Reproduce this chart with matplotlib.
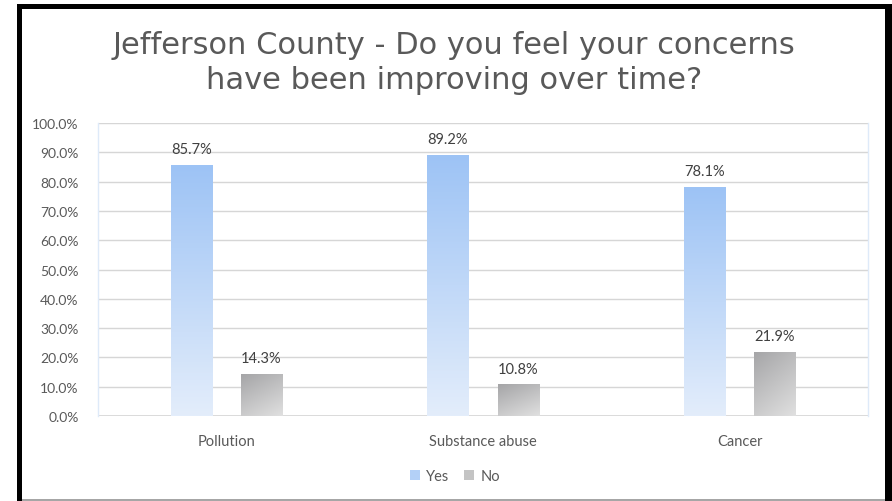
import numpy as np
import matplotlib
matplotlib.use("Agg")
import matplotlib.pyplot as plt
from matplotlib.colors import LinearSegmentedColormap
from matplotlib.patches import Rectangle

# Survey results, percent of respondents
categories = ["Pollution", "Substance abuse", "Cancer"]
yes_pct = [85.7, 89.2, 78.1]
no_pct = [14.3, 10.8, 21.9]
yticks = [0, 10, 20, 30, 40, 50, 60, 70, 80, 90, 100]

title = "Jefferson County - Do you feel your concerns\nhave been improving over time?"
text_grey = "#595959"

W, H = 892, 502
fig = plt.figure(figsize=(W / 100, H / 100), dpi=100)
fig.patch.set_facecolor("white")

# plot area in pixel coordinates
left, right, top, bottom = 98, 868, 124, 417
ax = fig.add_axes([left / W, 1 - bottom / H, (right - left) / W, (bottom - top) / H])

x = np.arange(len(categories))
bw = 0.16
off = 0.137

blue_cmap = LinearSegmentedColormap.from_list("yesgrad", ["#e3edfb", "#9dc3f5"])
grey_cmap = LinearSegmentedColormap.from_list("nograd", ["#e0e0e0", "#a5a5a7"])


def gradient_bars(xs, vals, cmap, diagonal=False):
    bars = ax.bar(xs, vals, width=bw, color="none", edgecolor="none", zorder=3)
    for b in bars:
        x0, y0 = b.get_x(), b.get_y()
        w, h = b.get_width(), b.get_height()
        if diagonal:
            gx, gy = np.meshgrid(np.linspace(0, 1, 40), np.linspace(0, 1, 80))
            grad = 0.65 * gy + 0.35 * (1 - gx)
        else:
            grad = np.linspace(0, 1, 200).reshape(-1, 1)
        im = ax.imshow(grad, cmap=cmap, origin="lower", aspect="auto",
                       extent=[x0, x0 + w, y0, y0 + h], zorder=3,
                       interpolation="bilinear")
        im.set_clip_path(b)
    return bars


yes_bars = gradient_bars(x - off, yes_pct, blue_cmap)
no_bars = gradient_bars(x + off, no_pct, grey_cmap, diagonal=True)
ax.set_xlim(-0.5, len(categories) - 0.5)
ax.set_ylim(0, 100)

for xs, vals in ((x - off, yes_pct), (x + off, no_pct)):
    for xi, v in zip(xs, vals):
        ax.text(xi, v + 3.0, f"{v:.1f}%", ha="center", va="bottom",
                fontsize=10.5, color="#404040", family="Lato", zorder=4)

ax.set_yticks(yticks)
ax.set_yticklabels([f"{t:.1f}%" for t in yticks], family="Lato", fontsize=10, color=text_grey)
ax.set_xticks(x)
ax.set_xticklabels(categories, family="Lato", fontsize=10.5, color=text_grey)
ax.tick_params(axis="both", length=0)
ax.tick_params(axis="y", pad=14)
ax.tick_params(axis="x", pad=13)
ax.grid(axis="y", color="#d6d6d6", linewidth=1.0, zorder=0)
ax.set_axisbelow(True)
for s in ("top", "bottom"):
    ax.spines[s].set_visible(False)
for s in ("left", "right"):
    ax.spines[s].set_color("#deeaf9")
    ax.spines[s].set_linewidth(1.0)
ax.axhline(0, color="#d6d6d6", linewidth=1.2, zorder=2)

# legend
lh = [Rectangle((0, 0), 1, 1, facecolor="#b3d0f7", edgecolor="none"),
      Rectangle((0, 0), 1, 1, facecolor="#c4c4c4", edgecolor="none")]
fig.legend(lh, ["Yes", "No"], loc="center", bbox_to_anchor=(455 / W, 1 - 477 / H),
           ncol=2, frameon=False, handlelength=0.7, handleheight=0.7,
           handletextpad=0.4, columnspacing=1.0,
           prop={"family": "Lato", "size": 10.5}, labelcolor=text_grey)

# title
fig.text(454 / W, 1 - 63 / H, title, ha="center", va="center", fontsize=22,
         family="DejaVu Sans", color=text_grey, linespacing=1.25)

# frame around the chart
frame_k = "black"
fig.add_artist(Rectangle((17 / W, 0), 5 / W, 1 - 5 / H, transform=fig.transFigure,
                         facecolor=frame_k, edgecolor="none"))
fig.add_artist(Rectangle((17 / W, 1 - 10 / H), (892 - 17) / W, 5 / H, transform=fig.transFigure,
                         facecolor=frame_k, edgecolor="none"))
fig.add_artist(Rectangle((885 / W, 0), 7 / W, 1 - 5 / H, transform=fig.transFigure,
                         facecolor=frame_k, edgecolor="none"))
fig.add_artist(Rectangle((22 / W, 0), (885 - 22) / W, 2 / H, transform=fig.transFigure,
                         facecolor="#a6a6a6", edgecolor="none"))

fig.savefig("out.png", dpi=100, facecolor="white")
